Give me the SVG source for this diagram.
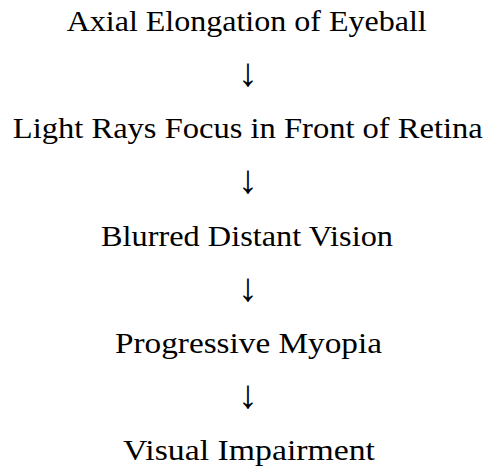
<svg xmlns="http://www.w3.org/2000/svg" width="488" height="468" viewBox="0 0 488 468">
<style>
text{font-family:"Liberation Serif","DejaVu Serif",serif;font-size:30px;fill:#000;text-anchor:middle}
.arr{font-size:40px}
</style>
<rect width="488" height="468" fill="#fff"/>
<g id="n1"><text x="246.7" y="31" textLength="360" lengthAdjust="spacingAndGlyphs">Axial Elongation of Eyeball</text></g>
<g id="n2"><text x="247.8" y="138.3" textLength="470" lengthAdjust="spacingAndGlyphs">Light Rays Focus in Front of Retina</text></g>
<g id="n3"><text x="247" y="245.6" textLength="292" lengthAdjust="spacingAndGlyphs">Blurred Distant Vision</text></g>
<g id="n4"><text x="248.5" y="352.9" textLength="267" lengthAdjust="spacingAndGlyphs">Progressive Myopia</text></g>
<g id="n5"><text x="249" y="460.2" textLength="252" lengthAdjust="spacingAndGlyphs">Visual Impairment</text></g>
<g id="connectors">
<text class="arr" x="248" y="86">↓</text>
<text class="arr" x="248" y="193.3">↓</text>
<text class="arr" x="248" y="300.6">↓</text>
<text class="arr" x="248" y="407.9">↓</text>
</g>
</svg>
